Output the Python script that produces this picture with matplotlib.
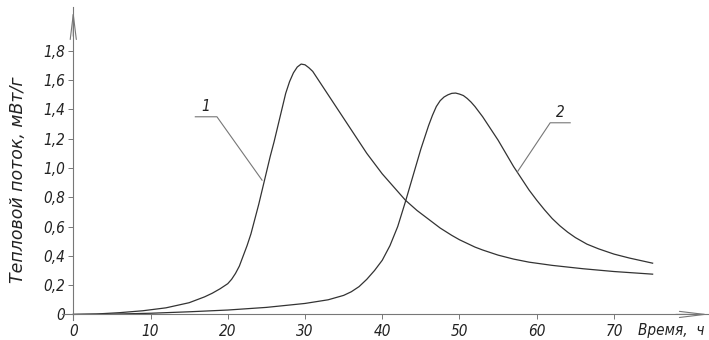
import matplotlib
matplotlib.use("Agg")
import matplotlib.pyplot as plt

# curve 1
t1 = [0, 3, 6, 9, 12, 15, 17, 18, 19, 20, 20.5, 21, 21.5, 22, 22.5, 23, 23.5, 24,
      24.5, 25, 25.5, 26, 26.5, 27, 27.5, 28, 28.5, 29, 29.5, 30, 30.5, 31, 31.5, 32,
      33, 34, 35, 36, 37, 38, 39, 40, 41.5, 43, 44.5, 46, 47.5, 49, 50, 51, 52, 53,
      55, 57, 59, 62, 66, 70, 75]
q1 = [0, 0.003, 0.012, 0.025, 0.045, 0.08, 0.12, 0.145, 0.175, 0.21, 0.24, 0.28,
      0.33, 0.40, 0.47, 0.55, 0.65, 0.75, 0.86, 0.97, 1.08, 1.18, 1.29, 1.40, 1.51,
      1.59, 1.65, 1.69, 1.71, 1.705, 1.685, 1.66, 1.62, 1.58, 1.50, 1.42, 1.34, 1.26,
      1.18, 1.10, 1.03, 0.96, 0.87, 0.78, 0.71, 0.65, 0.59, 0.54, 0.51, 0.485, 0.46,
      0.44, 0.405, 0.378, 0.357, 0.335, 0.312, 0.293, 0.275]

# curve 2
t2 = [0, 5, 10, 15, 20, 25, 30, 33, 35, 36, 37, 38, 39, 40, 41, 42, 43, 44, 45, 46,
      46.5, 47, 47.5, 48, 48.5, 49, 49.5, 50, 50.5, 51, 51.5, 52, 53, 54, 55, 56, 57,
      58, 59, 60, 61, 62, 63, 64, 65, 66.5, 68, 70, 72, 75]
q2 = [0, 0.002, 0.008, 0.018, 0.03, 0.048, 0.075, 0.1, 0.13, 0.155, 0.19, 0.24, 0.3,
      0.37, 0.47, 0.6, 0.77, 0.95, 1.13, 1.29, 1.36, 1.42, 1.46, 1.485, 1.50, 1.51,
      1.512, 1.505, 1.495, 1.475, 1.45, 1.42, 1.35, 1.27, 1.19, 1.10, 1.01, 0.93,
      0.85, 0.78, 0.715, 0.655, 0.605, 0.562, 0.525, 0.48, 0.448, 0.412, 0.385, 0.35]

xticks = [0, 10, 20, 30, 40, 50, 60, 70]
yticks = [0, 0.2, 0.4, 0.6, 0.8, 1.0, 1.2, 1.4, 1.6, 1.8]
ylabels = ['0', '0,2', '0,4', '0,6', '0,8', '1,0', '1,2', '1,4', '1,6', '1,8']

plt.rcParams['font.family'] = ['DejaVu Sans']
plt.rcParams['font.style'] = 'italic'
plt.rcParams['font.stretch'] = 'condensed'
plt.rcParams['font.size'] = 11

txt = '#222222'
axc = '#777777'

fig = plt.figure(figsize=(7.09, 3.4), dpi=100)
ax = fig.add_axes([0.087, 0.058, 0.913, 0.9215])
ax.set_xlim(-1.5, 82.3)
ax.set_ylim(-0.04, 2.1)

ax.plot(t1, q1, color='#333333', lw=0.9)
ax.plot(t2, q2, color='#333333', lw=0.9)

for s in ['top', 'right']:
    ax.spines[s].set_visible(False)
ax.spines['left'].set_position(('data', 0))
ax.spines['bottom'].set_position(('data', 0))
for s in ['left', 'bottom']:
    ax.spines[s].set_color(axc)
    ax.spines[s].set_linewidth(0.8)

ax.set_xticks(xticks)
ax.set_xticklabels([str(v) for v in xticks])
ax.set_yticks(yticks)
ax.set_yticklabels(ylabels)
ax.tick_params(direction='out', length=3.6, width=0.7, color=axc, labelcolor=txt,
               labelsize=11)
ax.tick_params(axis='y', pad=2.5)
ax.tick_params(axis='x', pad=3)

# arrow heads
ax.annotate('', xy=(82.3, 0), xytext=(78, 0),
            arrowprops=dict(arrowstyle='->,head_length=1.8,head_width=0.22',
                            color=axc, lw=0.8, mutation_scale=10,
                            shrinkA=0, shrinkB=0))
ax.annotate('', xy=(0, 2.08), xytext=(0, 1.9),
            arrowprops=dict(arrowstyle='->,head_length=1.8,head_width=0.22',
                            color=axc, lw=0.8, mutation_scale=10,
                            shrinkA=0, shrinkB=0))

# leaders
ax.plot([15.8, 18.6, 24.44], [1.35, 1.35, 0.917], color=axc, lw=0.8)
ax.text(17.2, 1.37, '1', ha='center', va='bottom', color=txt)
ax.plot([57.5, 61.74, 64.33], [0.974, 1.309, 1.309], color=axc, lw=0.8)
ax.text(63.1, 1.33, '2', ha='center', va='bottom', color=txt)

fig.text(705 / 709, 1 - 331 / 340, 'Время,  ч', ha='right', va='center',
         color=txt)
fig.text(18 / 709, 1 - 180 / 340, 'Тепловой поток, мВт/г', rotation=90,
         ha='center', va='center', color=txt, fontsize=12.5, fontstretch='normal')

fig.savefig('out.png', dpi=100)
